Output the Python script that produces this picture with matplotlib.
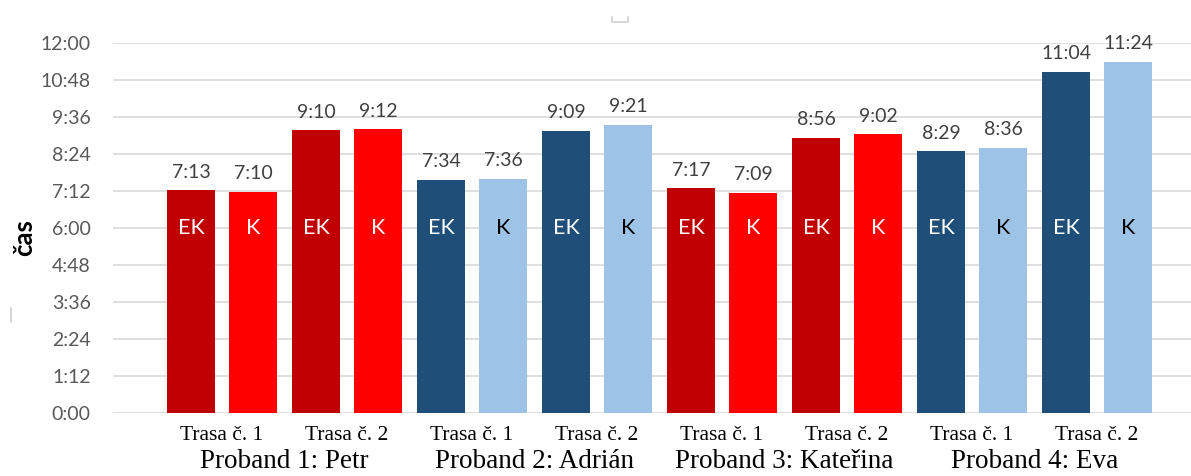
import matplotlib
matplotlib.use("Agg")
import matplotlib.pyplot as plt
from matplotlib.lines import Line2D
import numpy as np

# ---- data ----
categories = ["Trasa č. 1", "Trasa č. 2"] * 4
probands = ["Proband 1: Petr", "Proband 2: Adrián", "Proband 3: Kateřina", "Proband 4: Eva"]
ek_times = ["7:13", "9:10", "7:34", "9:09", "7:17", "8:56", "8:29", "11:04"]
k_times = ["7:10", "9:12", "7:36", "9:21", "7:09", "9:02", "8:36", "11:24"]
series_names = ["EK", "K"]
y_ticks_labels = ["0:00", "1:12", "2:24", "3:36", "4:48", "6:00", "7:12", "8:24", "9:36", "10:48", "12:00"]

def to_min(s):
    m, sec = s.split(":")
    return int(m) + int(sec) / 60.0

ek_vals = [to_min(t) for t in ek_times]
k_vals = [to_min(t) for t in k_times]
y_ticks = [to_min(t) for t in y_ticks_labels]

red_dark, red_light = "#C00000", "#FF0000"
blue_dark, blue_light = "#1F4E79", "#9DC3E6"
ek_colors = [red_dark, red_dark, blue_dark, blue_dark, red_dark, red_dark, blue_dark, blue_dark]
k_colors = [red_light, red_light, blue_light, blue_light, red_light, red_light, blue_light, blue_light]
k_text_colors = ["white", "white", "black", "black", "white", "white", "black", "black"]

W, H = 1191, 476
fig = plt.figure(figsize=(W / 100, H / 100), dpi=100)
ax_left, ax_right, ax_top, ax_bot = 113, 1191, 43, 413
ax = fig.add_axes([ax_left / W, 1 - ax_bot / H, (ax_right - ax_left) / W, (ax_bot - ax_top) / H])

# x positions: category centers at pixel 222 + 125*i
x = np.arange(len(categories))
pitch = 125.0
ax.set_xlim((ax_left - 222) / pitch, (ax_right - 222) / pitch)
ax.set_ylim(0, 12)

bw = 0.38
off = 0.248
ax.bar(x - off, ek_vals, width=bw, color=ek_colors, zorder=3)
ax.bar(x + off, k_vals, width=bw, color=k_colors, zorder=3)

ax.set_yticks(y_ticks)
ax.set_yticklabels(y_ticks_labels, fontfamily="Lato", fontsize=14, color="#595959")
ax.yaxis.grid(True, color="#D9D9D9", linewidth=1.2, zorder=0)
ax.set_axisbelow(True)
ax.tick_params(axis="y", length=0, pad=16)
for s in ax.spines.values():
    s.set_visible(False)

ax.set_xticks(x)
ax.set_xticklabels(categories, fontfamily="Liberation Serif", fontsize=15.5, color="black")
ax.tick_params(axis="x", length=0, pad=9)

# data labels and inside labels
for i in range(len(x)):
    for xv, val, txt in [(x[i] - off, ek_vals[i], ek_times[i]), (x[i] + off, k_vals[i], k_times[i])]:
        ax.annotate(txt, (xv, val), xytext=(0, 7), textcoords="offset points",
                    ha="center", va="bottom", fontfamily="Lato", fontsize=14,
                    color="#404040", annotation_clip=False)
    ax.text(x[i] - off, 6.0, series_names[0], ha="center", va="center",
            fontfamily="Lato", fontsize=15.5, color="white", zorder=4)
    ax.text(x[i] + off, 6.0, series_names[1], ha="center", va="center",
            fontfamily="Lato", fontsize=15.5, color=k_text_colors[i], zorder=4)

# proband labels (bottom of text box kept just inside the figure edge)
for j, name in enumerate(probands):
    ax.annotate(name, (2 * j + 0.5, 0), xycoords=("data", "axes fraction"),
                xytext=(0, -(H - ax_bot) + 2), textcoords="offset pixels",
                ha="center", va="bottom",
                fontfamily="Liberation Serif", fontsize=19.5, color="black",
                annotation_clip=False)

# y axis title
fig.text(24 / W, 1 - 238 / H, "čas", rotation=90, ha="center", va="center",
         fontfamily="Lato", fontsize=18.5, fontweight="bold", color="black")

# faint selection-handle marks from the original screenshot
fig.add_artist(Line2D([612 / W, 612 / W, 628 / W, 628 / W],
                      [1 - 17 / H, 1 - 22 / H, 1 - 22 / H, 1 - 17 / H],
                      color="#D0D0D0", linewidth=1.2))
fig.add_artist(Line2D([11 / W, 11 / W], [1 - 308 / H, 1 - 322 / H], color="#D0D0D0", linewidth=1.2))

fig.savefig("out.png", dpi=100)
